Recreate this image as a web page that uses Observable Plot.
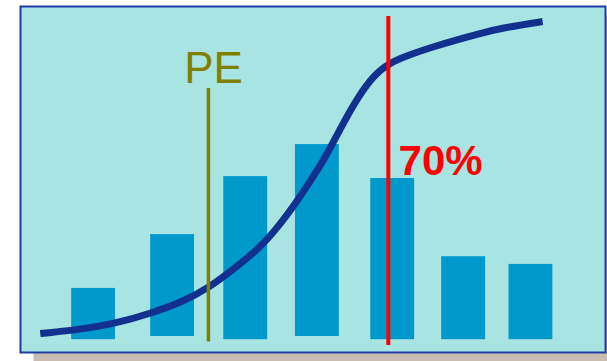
<!DOCTYPE html>
<html>
<head>
<meta charset="utf-8">
<script src="https://cdn.jsdelivr.net/npm/d3@7"></script>
<script src="https://cdn.jsdelivr.net/npm/@observablehq/plot@0.6"></script>
<style>
  html, body { margin: 0; padding: 0; background: #ffffff; }
  #chart svg { display: block; }
</style>
</head>
<body>
<div id="chart"></div>
<script>
// Distribution bars (position along the scale, height in %)
const barPositions = [1.0, 2.08, 3.08, 4.06, 5.09, 6.06, 6.98];
const barHeights   = [16.0, 32.8, 50.9, 60.9, 50.3, 25.9, 23.5];
const barBases     = [0, 1.0, 0, 1.0, 0, 0, 0];
const barHalfWidth = 0.3;

// Cumulative curve (S-shape)
const curveX = [0.27, 0.82, 1.31, 1.78, 2.19, 2.57, 3.01, 3.28, 3.56, 3.76, 3.97, 4.17, 4.38, 4.61, 4.83, 5.03, 5.29, 5.61, 5.98, 6.29, 6.56, 7.14];
const curveY = [1.9, 3.2, 5.1, 8.2, 11.6, 16.0, 23.8, 28.8, 36.3, 42.5, 49.7, 56.9, 66.2, 75.6, 82.5, 86.2, 88.7, 91.2, 93.7, 95.6, 97.2, 99.3];

// Reference lines
const peLine = {x: 2.57, y1: -0.7, y2: 78.4, label: "PE", labelX: 2.64, labelY: 80.0};
const pctLine = {x: 5.03, y1: -1.8, y2: 100.9, label: "70%", labelX: 5.17, labelY: 51.3};

const bars = barPositions.map((p, i) => ({x1: p - barHalfWidth, x2: p + barHalfWidth, y1: barBases[i], y2: barHeights[i]}));
const curve = curveX.map((x, i) => ({x, y: curveY[i]}));

const chart = Plot.plot({
  width: 607,
  height: 361,
  marginLeft: 20,
  marginRight: 2,
  marginTop: 6,
  marginBottom: 9,
  style: {background: "#ffffff", fontFamily: "'Liberation Sans', Arial, sans-serif"},
  x: {domain: [0, 8], axis: null},
  y: {domain: [-4, 104], axis: null},
  marks: [
    Plot.frame({fill: "#c9bdb2", stroke: "none", dx: 13, dy: 9}),
    Plot.frame({fill: "#a8e4e2", stroke: "#1f3ba6", strokeWidth: 2}),
    Plot.rect(bars, {x1: "x1", x2: "x2", y1: "y1", y2: "y2", fill: "#0099cc"}),
    Plot.line(curve, {x: "x", y: "y", stroke: "#12318f", strokeWidth: 7, strokeLinecap: "butt", curve: "basis"}),
    Plot.ruleX([peLine], {x: "x", y1: "y1", y2: "y2", stroke: "#808000", strokeWidth: 3.5}),
    Plot.ruleX([pctLine], {x: "x", y1: "y1", y2: "y2", stroke: "#ff0000", strokeWidth: 4}),
    Plot.text([peLine], {x: "labelX", y: "labelY", text: "label", fill: "#808000", fontSize: 44, textAnchor: "middle", lineAnchor: "bottom"}),
    Plot.text([pctLine], {x: "labelX", y: "labelY", text: "label", fill: "#ff0000", fontSize: 42, fontWeight: "bold", textAnchor: "start", lineAnchor: "bottom"})
  ]
});
document.getElementById("chart").appendChild(chart);
</script>
</body>
</html>
